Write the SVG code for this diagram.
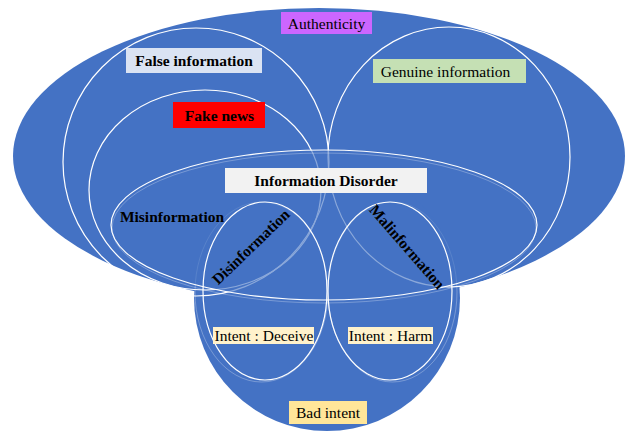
<svg xmlns="http://www.w3.org/2000/svg" width="627" height="431" viewBox="0 0 627 431">
<style>
.ring{fill:none;stroke:#ffffff;stroke-width:1.2}
.faint{fill:none;stroke:#ffffff;stroke-width:1;stroke-opacity:0.28}
.t{font-family:"Liberation Serif","Times New Roman",serif;font-size:15.5px;fill:#000000;text-anchor:middle}
.b{font-weight:bold}
</style>
<rect width="627" height="431" fill="#ffffff"/>
<g id="regions">
  <ellipse cx="319" cy="156" rx="306" ry="148" fill="#4472C4"/>
  <circle cx="327" cy="298" r="133" fill="#4472C4"/>
</g>
<g id="connectors">
  <ellipse id="ring-false" class="ring" cx="196" cy="162" rx="133" ry="134"/>
  <ellipse id="ring-fake" class="ring" cx="205" cy="190" rx="116" ry="100"/>
  <ellipse id="ring-genuine" class="ring" cx="449" cy="157" rx="121" ry="130"/>
  <ellipse class="faint" cx="261.5" cy="292" rx="66.5" ry="90"/>
  <ellipse class="faint" cx="392.5" cy="292" rx="64.5" ry="90"/>
  <ellipse id="ring-disorder" cx="324" cy="225" rx="213" ry="75" fill="#4472C4" fill-opacity="0.62" stroke="#ffffff" stroke-width="1.2"/>
  <ellipse class="faint" cx="324" cy="228" rx="212" ry="75"/>
  <ellipse id="ring-dis" class="ring" cx="265" cy="291" rx="62" ry="89"/>
  <ellipse id="ring-mal" class="ring" cx="390" cy="291" rx="62" ry="89"/>
</g>
<g id="authenticity">
  <rect x="281" y="12" width="91" height="22" fill="#CC66FF"/>
  <text class="t" x="326.5" y="28.5">Authenticity</text>
</g>
<g id="false-information">
  <rect x="126" y="48" width="136" height="25" fill="#DAE3F3"/>
  <text class="t b" x="194" y="66">False information</text>
</g>
<g id="genuine-information">
  <rect x="373" y="59" width="153" height="24" fill="#C5E0B4"/>
  <text class="t" x="445.5" y="76.5">Genuine information</text>
</g>
<g id="fake-news">
  <rect x="173" y="102" width="92" height="26" fill="#FF0000"/>
  <text class="t b" x="219.5" y="120.5">Fake news</text>
</g>
<g id="information-disorder">
  <rect x="225" y="168" width="202" height="25" fill="#F2F2F2"/>
  <text class="t b" x="326" y="186">Information Disorder</text>
</g>
<g id="misinformation">
  <text class="t b" x="172" y="222">Misinformation</text>
</g>
<g id="disinformation">
  <text class="t b" transform="translate(251,247) rotate(-44)" x="0" y="5">Disinformation</text>
</g>
<g id="malinformation">
  <text class="t b" transform="translate(407,247) rotate(49)" x="0" y="5">Malinformation</text>
</g>
<g id="intent-deceive">
  <rect x="213" y="327" width="101" height="17" fill="#FFF2CC"/>
  <text class="t" x="264" y="341">Intent : Deceive</text>
</g>
<g id="intent-harm">
  <rect x="348" y="327" width="85" height="17" fill="#FFF2CC"/>
  <text class="t" x="390.5" y="341">Intent : Harm</text>
</g>
<g id="bad-intent">
  <rect x="289" y="401" width="78" height="23" fill="#FFE699"/>
  <text class="t" x="328" y="418">Bad intent</text>
</g>
</svg>
